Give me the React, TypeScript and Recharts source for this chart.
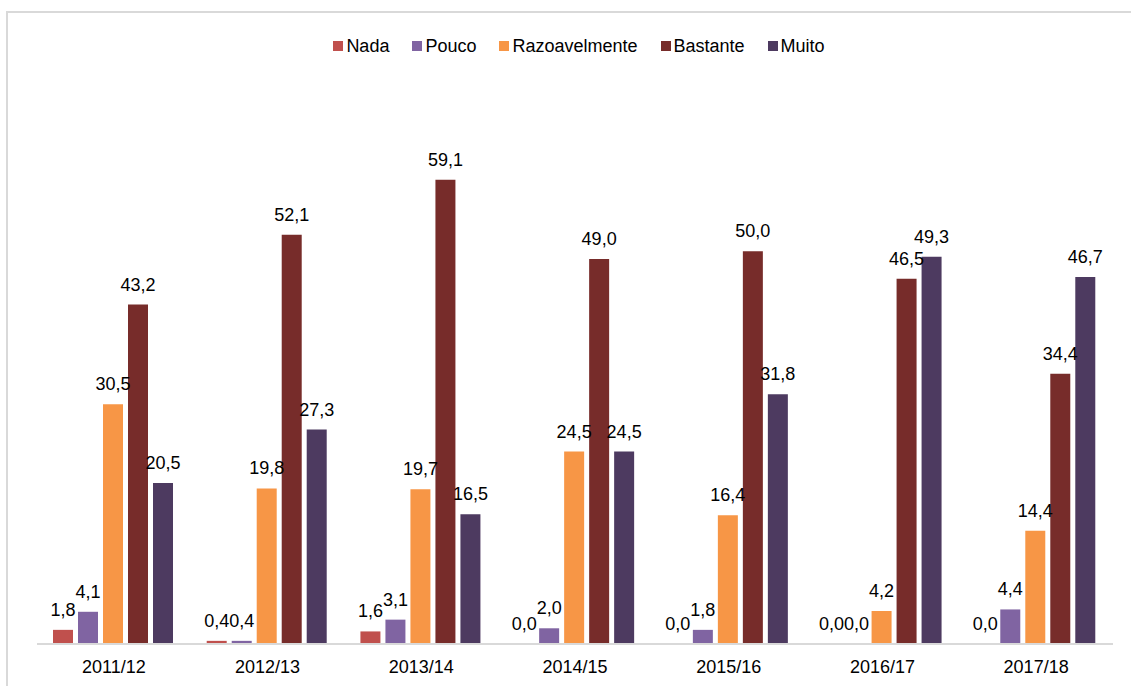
import React from "react";
import { BarChart, Bar, XAxis, YAxis, Legend, LabelList } from "recharts";

const categories = ["2011/12", "2012/13", "2013/14", "2014/15", "2015/16", "2016/17", "2017/18"];
const nada = [1.8, 0.4, 1.6, 0.0, 0.0, 0.0, 0.0];
const pouco = [4.1, 0.4, 3.1, 2.0, 1.8, 0.0, 4.4];
const razoavelmente = [30.5, 19.8, 19.7, 24.5, 16.4, 4.2, 14.4];
const bastante = [43.2, 52.1, 59.1, 49.0, 50.0, 46.5, 34.4];
const muito = [20.5, 27.3, 16.5, 24.5, 31.8, 49.3, 46.7];

const seriesNames = ["Nada", "Pouco", "Razoavelmente", "Bastante", "Muito"];
const seriesColors = ["#C0504D", "#8064A2", "#F79646", "#772C2A", "#4D3A60"];
const seriesValues = [nada, pouco, razoavelmente, bastante, muito];

const data = categories.map((c, i) => {
  const row: Record<string, string | number> = { name: c };
  seriesNames.forEach((s, k) => {
    row[s] = seriesValues[k][i];
  });
  return row;
});

const FONT = "'Liberation Sans', Arial, sans-serif";
const fmt = (v: any) => Number(v).toFixed(1).replace(".", ",");

const LegendContent = () => (
  <div
    style={{
      display: "flex",
      justifyContent: "center",
      alignItems: "center",
      paddingLeft: 27,
      fontFamily: FONT,
      fontSize: 18,
      color: "#000",
      lineHeight: "24px",
    }}
  >
    {seriesNames.map((s, k) => (
      <div key={s} style={{ display: "flex", alignItems: "center", marginRight: k < seriesNames.length - 1 ? 23 : 0 }}>
        <span style={{ display: "inline-block", width: 10, height: 10, background: seriesColors[k], marginRight: 3 }} />
        <span>{s}</span>
      </div>
    ))}
  </div>
);

export default function App() {
  return (
    <div style={{ position: "absolute", left: 0, top: 0, width: 1131, height: 686, overflow: "hidden", background: "#fff" }}>
      <div
        style={{
          position: "absolute",
          left: 6,
          top: 11,
          width: 1160,
          height: 720,
          border: "2px solid #D9D9D9",
          boxSizing: "border-box",
        }}
      />
      <div style={{ position: "absolute", left: 0, top: 0 }}>
        <BarChart
          width={1131}
          height={686}
          data={data}
          margin={{ top: 94, right: 18, left: 37, bottom: 0 }}
          barCategoryGap={16}
          barGap={5}
        >
          <XAxis
            dataKey="name"
            height={42}
            tickLine={false}
            tickSize={0}
            tickMargin={16}
            axisLine={{ stroke: "#D9D9D9", strokeWidth: 2 }}
            tick={{ fill: "#000", fontSize: 18, fontFamily: FONT }}
            interval={0}
          />
          <YAxis hide domain={[0, 70]} />
          <Legend
            layout="horizontal"
            verticalAlign="middle"
            align="center"
            wrapperStyle={{ top: 34, left: 0, width: 1131 }}
            content={<LegendContent />}
          />
          {seriesNames.map((s, k) => (
            <Bar key={s} dataKey={s} fill={seriesColors[k]} minPointSize={0.1} isAnimationActive={false}>
              <LabelList
                dataKey={s}
                position="top"
                offset={14}
                formatter={fmt}
                style={{ fill: "#000", fontSize: 18, fontFamily: FONT }}
              />
            </Bar>
          ))}
        </BarChart>
      </div>
    </div>
  );
}
